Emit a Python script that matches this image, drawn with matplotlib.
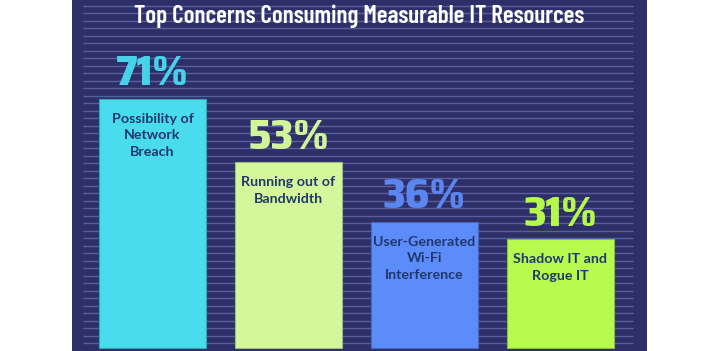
import numpy as np
import matplotlib
matplotlib.use("Agg")
import matplotlib.pyplot as plt
import matplotlib.colors as mcolors

# ---- data ----
title = "Top Concerns Consuming Measurable IT Resources"
categories = ["Possibility of\nNetwork\nBreach",
              "Running out of\nBandwidth",
              "User-Generated\nWi-Fi\nInterference",
              "Shadow IT and\nRogue IT"]
values = [71, 53, 36, 31]
value_labels = ["71%", "53%", "36%", "31%"]
bar_colors = ["#48dcec", "#d4f79c", "#5c8cfa", "#b6fb4e"]
pct_colors = ["#46d3ea", "#d2f59a", "#5a86f0", "#b4f94c"]

# ---- style ----
W, H = 720, 351
fig = plt.figure(figsize=(W / 100, H / 100), dpi=100, facecolor="white")
ax = fig.add_axes([72 / W, 0, (647 - 72) / W, 1])
navy = "#2e2f68"
ax.set_facecolor(navy)

px_per_x = 136.0
px_per_y = 249.0 / 71.0
x0_px = 152.5
base_px = 348.0
ax.set_xlim((72 - x0_px) / px_per_x, (647 - x0_px) / px_per_x)
ax.set_ylim(-(H - base_px) / px_per_y, base_px / px_per_y)

# decorative horizontal stripes
stripe_step = 7.5 / px_per_y
stripe_start = (base_px - 343.3) / px_per_y
stripes = np.arange(stripe_start, base_px / px_per_y, stripe_step)
ax.hlines(stripes, (83 - x0_px) / px_per_x, (633 - x0_px) / px_per_x,
          colors="#585d9d", linewidth=1.0, zorder=1)

x = np.arange(len(values))
edge = [tuple(np.array(mcolors.to_rgb(c)) * 0.75) for c in bar_colors]
ax.bar(x, values, width=107 / px_per_x, color=bar_colors, edgecolor=edge,
       linewidth=0.8, zorder=2)

for xi, v, lab, pl, pc in zip(x, values, categories, value_labels, pct_colors):
    ax.annotate(pl, (xi, v), xytext=(0, 4), textcoords="offset points",
                ha="center", va="bottom", fontsize=31, fontweight=800,
                family="Saira SemiCondensed", color=pc, zorder=3)
    ax.annotate(lab, (xi, v), xytext=(0, -10), textcoords="offset points",
                ha="center", va="top", fontsize=10.3, fontweight="bold",
                family="Lato", color="#22386c", linespacing=1.45,
                multialignment="center", zorder=3)

for s in ax.spines.values():
    s.set_visible(False)
ax.set_xticks([])
ax.set_yticks([])

fig.text(359.5 / W, 1 - 4 / H, title, ha="center", va="top",
         fontsize=18, fontweight="semibold", family="Barlow Condensed",
         color="white")

fig.savefig("out.png", dpi=100, facecolor="white")
